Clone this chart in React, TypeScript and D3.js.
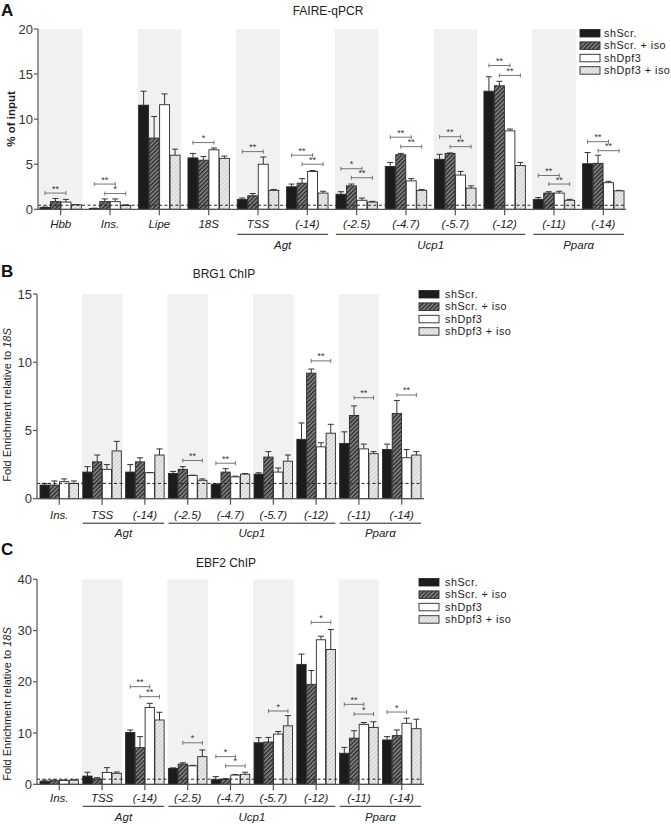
import React from "react";
import * as d3 from "d3";

// ---------- shared ----------
const seriesNames = ["shScr.", "shScr. + iso", "shDpf3", "shDpf3 + iso"];

// ---------- Panel A: FAIRE-qPCR ----------
const faireCats = ["Hbb", "Ins.", "Lipe", "18S", "TSS", "(-14)", "(-2.5)", "(-4.7)", "(-5.7)", "(-12)", "(-11)", "(-14)"];
const faireShScr = [0.2, 0.1, 11.55, 5.7, 1.1, 2.5, 1.67, 4.75, 5.55, 13.1, 1.1, 5.05];
const faireShScrIso = [0.85, 0.85, 7.9, 5.45, 1.5, 2.9, 2.6, 6.05, 6.2, 13.7, 1.8, 5.1];
const faireShDpf3 = [0.8, 0.85, 11.6, 6.6, 5.0, 4.2, 1.0, 3.15, 3.8, 8.7, 1.8, 2.95];
const faireShDpf3Iso = [0.5, 0.42, 6.0, 5.65, 2.1, 1.8, 0.8, 2.1, 2.35, 4.85, 1.0, 2.05];
const faireErrShScr = [0.05, 0.02, 1.55, 0.5, 0.15, 0.3, 0.28, 0.45, 0.55, 1.6, 0.2, 1.25];
const faireErrShScrIso = [0.35, 0.3, 2.4, 0.4, 0.25, 0.5, 0.2, 0.15, 0.05, 0.5, 0.15, 0.9];
const faireErrShDpf3 = [0.3, 0.3, 1.2, 0.2, 0.8, 0.1, 0.25, 0.25, 0.4, 0.2, 0.2, 0.15];
const faireErrShDpf3Iso = [0.02, 0.08, 0.67, 0.25, 0.1, 0.2, 0.08, 0.1, 0.25, 0.35, 0.1, 0.05];
const faireGenes = [
  { name: "Agt", from: 4, to: 5 },
  { name: "Ucp1", from: 6, to: 9 },
  { name: "Pparα", from: 10, to: 11 },
];
// [category, series from, series to, level, label]
const faireSigs: [number, number, number, number, string][] = [
  [0, 0, 2, 1.8, "**"],
  [1, 0, 2, 2.8, "**"], [1, 1, 3, 1.75, "*"],
  [3, 0, 2, 7.4, "*"],
  [4, 0, 2, 6.4, "**"],
  [5, 0, 2, 6.0, "**"], [5, 1, 3, 5.0, "**"],
  [6, 0, 2, 4.5, "*"], [6, 1, 3, 3.5, "**"],
  [7, 0, 2, 8.0, "**"], [7, 1, 3, 6.95, "**"],
  [8, 0, 2, 8.05, "**"], [8, 1, 3, 6.95, "**"],
  [9, 0, 2, 15.95, "**"], [9, 1, 3, 14.85, "**"],
  [10, 0, 2, 3.75, "**"], [10, 1, 3, 2.8, "**"],
  [11, 0, 2, 7.5, "**"], [11, 1, 3, 6.5, "**"],
];
const faireTicks = [0, 5, 10, 15, 20];

// ---------- Panel B: BRG1 ChIP ----------
const chipCats = ["Ins.", "TSS", "(-14)", "(-2.5)", "(-4.7)", "(-5.7)", "(-12)", "(-11)", "(-14)"];
const chipGenes = [
  { name: "Agt", from: 1, to: 2 },
  { name: "Ucp1", from: 3, to: 6 },
  { name: "Pparα", from: 7, to: 8 },
];
const brgShScr = [1.0, 1.95, 1.95, 1.85, 1.05, 1.8, 4.35, 4.05, 3.6];
const brgShScrIso = [1.0, 2.7, 2.7, 2.15, 1.95, 3.05, 9.2, 6.1, 6.25];
const brgShDpf3 = [1.25, 2.15, 1.9, 1.7, 1.6, 1.95, 3.8, 3.65, 3.0];
const brgShDpf3Iso = [1.12, 3.5, 3.2, 1.35, 1.8, 2.75, 4.8, 3.3, 3.2];
const brgErrShScr = [0.12, 0.4, 0.55, 0.15, 0.05, 0.1, 1.2, 0.85, 0.4];
const brgErrShScrIso = [0.3, 0.5, 0.3, 0.2, 0.25, 0.4, 0.3, 0.7, 0.95];
const brgErrShDpf3 = [0.2, 0.35, 0.02, 0.02, 0.05, 0.3, 0.3, 0.35, 0.6];
const brgErrShDpf3Iso = [0.18, 0.7, 0.45, 0.1, 0.05, 0.45, 0.65, 0.15, 0.25];
const brgSigs: [number, number, number, number, string][] = [
  [3, 1, 3, 2.8, "**"],
  [4, 0, 2, 2.6, "**"],
  [6, 1, 3, 10.1, "**"],
  [7, 1, 3, 7.4, "**"],
  [8, 1, 3, 7.6, "**"],
];
const brgTicks = [0, 5, 10, 15];

// ---------- Panel C: EBF2 ChIP ----------
const ebfShScr = [0.6, 1.6, 10.1, 3.1, 0.9, 8.1, 23.4, 6.05, 8.65];
const ebfShScrIso = [0.7, 1.05, 7.15, 3.95, 1.0, 8.25, 19.5, 9.0, 9.5];
const ebfShDpf3 = [0.75, 2.3, 15.0, 3.6, 1.8, 9.8, 28.2, 11.7, 11.9];
const ebfShDpf3Iso = [0.8, 2.15, 12.55, 5.4, 1.95, 11.4, 26.3, 11.1, 10.85];
const ebfErrShScr = [0.2, 0.75, 0.5, 0.1, 0.6, 1.0, 2.0, 1.15, 0.65];
const ebfErrShScrIso = [0.15, 0.25, 2.15, 0.25, 0.1, 0.9, 2.7, 1.45, 1.1];
const ebfErrShDpf3 = [0.1, 0.95, 0.8, 0.1, 0.1, 0.5, 0.7, 0.35, 1.0];
const ebfErrShDpf3Iso = [0.1, 0.25, 1.5, 1.3, 0.4, 2.0, 3.9, 1.1, 1.85];
const ebfSigs: [number, number, number, number, string][] = [
  [2, 0, 2, 19.05, "**"], [2, 1, 3, 17.1, "**"],
  [3, 1, 3, 8.1, "*"],
  [4, 0, 2, 5.4, "*"], [4, 1, 3, 3.6, "*"],
  [5, 1, 3, 14.3, "*"],
  [6, 1, 3, 31.6, "*"],
  [7, 0, 2, 15.6, "**"], [7, 1, 3, 13.7, "*"],
  [8, 0, 2, 14.1, "*"],
];
const ebfTicks = [0, 10, 20, 30, 40];

const FONT = "'Liberation Sans', Arial, Helvetica, sans-serif";
const fills = ["#1c1c1c", "url(#hatchDark)", "#ffffff", "url(#hatchLight)"];

type PanelProps = {
  cats: string[];
  means: number[][];
  errs: number[][];
  yMax: number;
  ticks: number[];
  top: number;
  bottom: number;
  xRange: [number, number];
  padIn: number;
  padOut: number;
  shadeParity: number;
  genes: { name: string; from: number; to: number }[];
  sigs: [number, number, number, number, string][];
  dashVal: number;
  legendX: number;
  legendTextX: number;
  legendY: number;
  title: string;
  titleX: number;
  titleY: number;
  letter: string;
  letterY: number;
  ylabel: React.ReactNode;
  ylabelX: number;
  ylabelY: number;
  labOff: number;
  lineOff: number;
  geneOff: number;
};

function Panel(p: PanelProps) {
  const x = d3
    .scaleBand<number>()
    .domain(d3.range(p.cats.length))
    .range(p.xRange)
    .paddingInner(p.padIn)
    .paddingOuter(p.padOut);
  const xi = d3.scaleBand<number>().domain([0, 1, 2, 3]).range([0, x.bandwidth()]).paddingInner(0.05);
  const y = d3.scaleLinear().domain([0, p.yMax]).range([p.bottom, p.top]);
  const x0 = p.xRange[0];
  const x1 = p.xRange[1];
  const bw = x.bandwidth();
  const cx = (i: number, s: number) => (x(i) as number) + (xi(s) as number) + xi.bandwidth() / 2;

  return (
    <g>
      {/* shading */}
      {p.cats.map((c, i) =>
        i % 2 === p.shadeParity ? (
          <rect key={"sh" + i} x={(x(i) as number) - 1} y={p.top} width={bw + 2} height={p.bottom - p.top} fill="#f1f1f1" />
        ) : null
      )}
      {/* bars */}
      {p.cats.map((c, i) =>
        p.means.map((ser, s) => {
          const v = ser[i];
          const e = p.errs[s][i];
          const bx = (x(i) as number) + (xi(s) as number);
          const w = xi.bandwidth();
          const c0 = bx + w / 2;
          return (
            <g key={"b" + i + "-" + s}>
              <line x1={c0} x2={c0} y1={y(v)} y2={y(v + e)} stroke="#333" strokeWidth={1} />
              <line x1={c0 - 3} x2={c0 + 3} y1={y(v + e)} y2={y(v + e)} stroke="#333" strokeWidth={1} />
              <rect x={bx} y={y(v)} width={w} height={p.bottom - y(v)} fill={fills[s]} stroke="#2a2a2a" strokeWidth={0.9} />
            </g>
          );
        })
      )}
      {/* dashed reference */}
      <line x1={x0} x2={x1 - 2} y1={y(p.dashVal)} y2={y(p.dashVal)} stroke="#222" strokeWidth={1} strokeDasharray="3,2.5" />
      {/* significance */}
      {p.sigs.map(([ci, a, b, lv, lab], k) => {
        const xa = cx(ci, a);
        const xb = cx(ci, b);
        const yy = y(lv);
        return (
          <g key={"sig" + k} stroke="#666" strokeWidth={0.9}>
            <line x1={xa} x2={xb} y1={yy} y2={yy} />
            <line x1={xa} x2={xa} y1={yy - 2} y2={yy + 2} />
            <line x1={xb} x2={xb} y1={yy - 2} y2={yy + 2} />
            <text x={(xa + xb) / 2} y={yy - 1.5} textAnchor="middle" fontSize={9} fill="#333" stroke="none" fontFamily={FONT}>
              {lab}
            </text>
          </g>
        );
      })}
      {/* y axis */}
      <line x1={x0} x2={x0} y1={p.top} y2={p.bottom} stroke="#555" strokeWidth={1.2} />
      {p.ticks.map((t) => (
        <g key={"t" + t}>
          <line x1={x0 - 4} x2={x0} y1={y(t)} y2={y(t)} stroke="#555" strokeWidth={1.2} />
          <text x={x0 - 5} y={y(t) + 4.5} textAnchor="end" fontSize={13} fill="#333" fontFamily={FONT}>
            {t}
          </text>
        </g>
      ))}
      {/* x axis */}
      <line x1={x0} x2={x1} y1={p.bottom} y2={p.bottom} stroke="#555" strokeWidth={1.2} />
      {p.cats.map((c, i) => {
        const mx = (x(i) as number) + bw / 2;
        return (
          <g key={"xl" + i}>
            <line x1={mx} x2={mx} y1={p.bottom} y2={p.bottom + 6} stroke="#555" strokeWidth={1.2} />
            <text x={mx} y={p.bottom + p.labOff} textAnchor="middle" fontSize={11.5} fontStyle="italic" fill="#222" fontFamily={FONT}>
              {c}
            </text>
          </g>
        );
      })}
      {p.genes.map((g) => {
        const gx0 = x(g.from) as number;
        const gx1 = (x(g.to) as number) + bw;
        return (
          <g key={"g" + g.name}>
            <line x1={gx0} x2={gx1} y1={p.bottom + p.lineOff} y2={p.bottom + p.lineOff} stroke="#222" strokeWidth={1} />
            <text x={(gx0 + gx1) / 2} y={p.bottom + p.geneOff} textAnchor="middle" fontSize={11.5} fontStyle="italic" fill="#222" fontFamily={FONT}>
              {g.name}
            </text>
          </g>
        );
      })}
      {/* legend */}
      {seriesNames.map((n, s) => {
        const ly = p.legendY + s * 12.4;
        return (
          <g key={"lg" + s}>
            <rect x={p.legendX} y={ly - 3.5} width={20} height={7.5} fill={fills[s]} stroke="#2a2a2a" strokeWidth={0.9} />
            <text x={p.legendTextX} y={ly + 4} fontSize={10.8} letterSpacing={0.5} fill="#222" fontFamily={FONT}>
              {n}
            </text>
          </g>
        );
      })}
      {/* titles */}
      <text x={p.titleX} y={p.titleY} textAnchor="middle" fontSize={12} fill="#222" fontFamily={FONT}>
        {p.title}
      </text>
      <text x={1} y={p.letterY} fontSize={17} fontWeight="bold" fill="#111" fontFamily={FONT}>
        {p.letter}
      </text>
      <g transform={`translate(${p.ylabelX},${p.ylabelY}) rotate(-90)`}>{p.ylabel}</g>
    </g>
  );
}

export default function App() {
  const chipLabel = (
    <text x={0} y={0} textAnchor="middle" fontSize={11} fill="#222" fontFamily={FONT}>
      Fold Enrichment relative to <tspan fontStyle="italic">18S</tspan>
    </text>
  );
  return (
    <svg width={671} height={824} style={{ position: "absolute", left: 0, top: 0, background: "#fff" }}>
      <defs>
        <pattern id="hatchDark" patternUnits="userSpaceOnUse" width={3} height={3} patternTransform="rotate(45)">
          <rect width={3} height={3} fill="#8a8a8a" />
          <rect width={1.4} height={3} fill="#262626" />
        </pattern>
        <pattern id="hatchLight" patternUnits="userSpaceOnUse" width={3} height={3} patternTransform="rotate(45)">
          <rect width={3} height={3} fill="#d4d4d4" />
          <rect width={1.2} height={3} fill="#f2f2f2" />
        </pattern>
      </defs>
      <rect width={671} height={824} fill="#fff" />
      <Panel
        cats={faireCats}
        means={[faireShScr, faireShScrIso, faireShDpf3, faireShDpf3Iso]}
        errs={[faireErrShScr, faireErrShScrIso, faireErrShDpf3, faireErrShDpf3Iso]}
        yMax={20}
        ticks={faireTicks}
        top={29}
        bottom={209.3}
        xRange={[38, 626]}
        padIn={0.16}
        padOut={0.04}
        shadeParity={0}
        genes={faireGenes}
        sigs={faireSigs}
        dashVal={0.45}
        legendX={580}
        legendTextX={604}
        legendY={33}
        title="FAIRE-qPCR"
        titleX={328}
        titleY={15}
        letter="A"
        letterY={16}
        ylabel={
          <text x={0} y={0} textAnchor="middle" fontSize={11.5} fontWeight="bold" fill="#222" fontFamily={FONT}>
            % of input
          </text>
        }
        ylabelX={15}
        ylabelY={119}
        labOff={19}
        lineOff={25}
        geneOff={40}
      />
      <Panel
        cats={chipCats}
        means={[brgShScr, brgShScrIso, brgShDpf3, brgShDpf3Iso]}
        errs={[brgErrShScr, brgErrShScrIso, brgErrShDpf3, brgErrShDpf3Iso]}
        yMax={15}
        ticks={brgTicks}
        top={294}
        bottom={498.7}
        xRange={[37, 424]}
        padIn={0.1}
        padOut={0.07}
        shadeParity={1}
        genes={chipGenes}
        sigs={brgSigs}
        dashVal={1.12}
        legendX={419}
        legendTextX={445}
        legendY={294}
        title="BRG1 ChIP"
        titleX={224}
        titleY={278}
        letter="B"
        letterY={277}
        ylabel={chipLabel}
        ylabelX={11}
        ylabelY={405}
        labOff={20}
        lineOff={24.5}
        geneOff={38}
      />
      <Panel
        cats={chipCats}
        means={[ebfShScr, ebfShScrIso, ebfShDpf3, ebfShDpf3Iso]}
        errs={[ebfErrShScr, ebfErrShScrIso, ebfErrShDpf3, ebfErrShDpf3Iso]}
        yMax={40}
        ticks={ebfTicks}
        top={579.3}
        bottom={784.3}
        xRange={[37, 424]}
        padIn={0.1}
        padOut={0.07}
        shadeParity={1}
        genes={chipGenes}
        sigs={ebfSigs}
        dashVal={1.0}
        legendX={419}
        legendTextX={445}
        legendY={582}
        title="EBF2 ChIP"
        titleX={226}
        titleY={567}
        letter="C"
        letterY={555}
        ylabel={chipLabel}
        ylabelX={11}
        ylabelY={704}
        labOff={18}
        lineOff={22}
        geneOff={37}
      />
    </svg>
  );
}
